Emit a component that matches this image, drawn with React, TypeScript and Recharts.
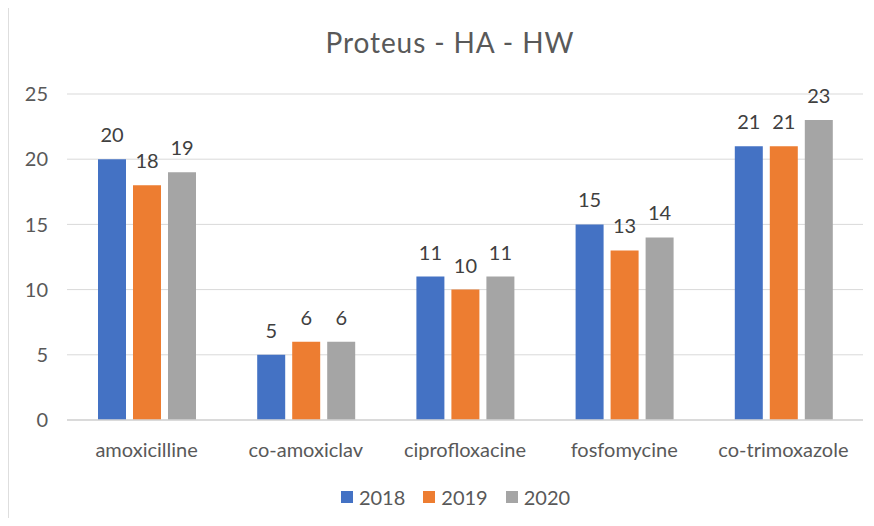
import React from 'react';
import { BarChart, Bar, XAxis, YAxis, CartesianGrid, Legend, LabelList } from 'recharts';

const categories = ['amoxicilline', 'co-amoxiclav', 'ciprofloxacine', 'fosfomycine', 'co-trimoxazole'];
const values2018 = [20, 5, 11, 15, 21];
const values2019 = [18, 6, 10, 13, 21];
const values2020 = [19, 6, 11, 14, 23];
const yTicks = [0, 5, 10, 15, 20, 25];
const seriesNames = ['2018', '2019', '2020'];
const seriesColors = ['#4472C4', '#ED7D31', '#A5A5A5'];
const title = 'Proteus - HA - HW';

const data = categories.map((name, i) => ({
  name,
  s2018: values2018[i],
  s2019: values2019[i],
  s2020: values2020[i],
}));

const FONT = 'Lato, "Noto Sans", sans-serif';

const LegendContent = (props: any) => {
  const { payload } = props;
  return (
    <div
      style={{
        display: 'flex',
        justifyContent: 'center',
        alignItems: 'center',
        height: 24,
        paddingLeft: 48,
        fontFamily: FONT,
        fontSize: 20,
        color: '#595959',
        lineHeight: '24px',
      }}
    >
      {(payload || []).map((p: any, i: number) => (
        <div key={i} style={{ display: 'flex', alignItems: 'center', marginLeft: i === 0 ? 0 : 18 }}>
          <div style={{ width: 12, height: 12, background: p.color, marginRight: 6 }} />
          <span>{p.value}</span>
        </div>
      ))}
    </div>
  );
};

export default function App() {
  const keys = ['s2018', 's2019', 's2020'];
  return (
    <div style={{ position: 'relative', margin: -8, width: 874, height: 526, overflow: 'hidden', background: '#dedede' }}>
      <div style={{ position: 'absolute', left: 9, top: 5, right: 0, bottom: 0, background: '#ffffff' }} />
      <div
        style={{
          position: 'absolute',
          left: 250,
          width: 400,
          top: 25,
          textAlign: 'center',
          fontFamily: FONT,
          fontSize: 28,
          lineHeight: '34px',
          color: '#595959',
          letterSpacing: 0.9,
          whiteSpace: 'nowrap',
        }}
      >
        {title}
      </div>
      <div style={{ position: 'absolute', left: 0, top: 0 }}>
        <BarChart
          width={874}
          height={526}
          data={data}
          margin={{ top: 94, right: 11, left: 0, bottom: 17 }}
          barSize={28}
          barGap={7}
        >
          <CartesianGrid vertical={false} stroke="#d9d9d9" strokeWidth={1} />
          <XAxis
            dataKey="name"
            height={65}
            tickSize={0}
            tickMargin={23}
            axisLine={{ stroke: '#d4d4d4', strokeWidth: 1.5 }}
            tickLine={false}
            tick={{ fill: '#595959', fontSize: 20, fontFamily: FONT }}
            interval={0}
          />
          <YAxis
            width={67}
            domain={[0, 25]}
            ticks={yTicks}
            tickSize={0}
            tickMargin={19}
            axisLine={false}
            tickLine={false}
            tick={{ fill: '#595959', fontSize: 20, fontFamily: FONT }}
          />
          <Legend verticalAlign="bottom" content={<LegendContent />} />
          {keys.map((k, i) => (
            <Bar key={k} dataKey={k} name={seriesNames[i]} fill={seriesColors[i]} isAnimationActive={false}>
              <LabelList
                dataKey={k}
                position="top"
                offset={17}
                fill="#404040"
                fontSize={20}
                fontFamily={FONT}
              />
            </Bar>
          ))}
        </BarChart>
      </div>
    </div>
  );
}
